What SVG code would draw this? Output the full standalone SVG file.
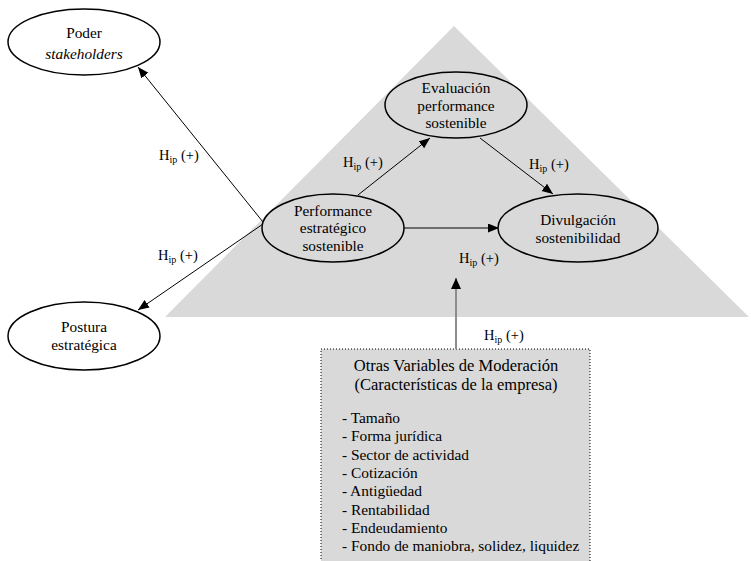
<svg xmlns="http://www.w3.org/2000/svg" width="751" height="561" viewBox="0 0 751 561" font-family="'Liberation Serif', 'Times New Roman', Times, 'DejaVu Serif', serif">
<style>
svg text{font-family:"Liberation Serif","Times New Roman",Times,"DejaVu Serif",serif;fill:#000}
.n{font-size:15.3px;text-anchor:middle}
.lbl{font-size:14.5px}
.sub{font-size:10px}
.e{stroke:#000;stroke-width:1.5}
.c{stroke:#000;stroke-width:1;fill:none}
.hd{font-size:16.5px;text-anchor:middle}
.li{font-size:15.4px}
</style>
<defs>
<marker id="ah" markerUnits="userSpaceOnUse" markerWidth="12" markerHeight="10" refX="11" refY="4.5" orient="auto"><path d="M0,0 L11,4.5 L0,9 z" fill="#000"/></marker>
<marker id="ahg" markerUnits="userSpaceOnUse" markerWidth="12" markerHeight="12" refX="11" refY="5" orient="auto"><path d="M0,0 L11,5 L0,10 z" fill="#000"/></marker>
</defs>
<polygon id="triangle" points="454,26 165,317 749,317" fill="#d9d9d9"/>
<g id="box">
<rect x="321" y="349" width="269" height="220" fill="#d9d9d9" stroke="#000" stroke-width="1" stroke-dasharray="1,2"/>
<text class="hd" x="456" y="371">Otras Variables de Moderación</text>
<text class="hd" x="456" y="390">(Características de la empresa)</text>
<text class="li" x="342" y="423">- Tamaño</text>
<text class="li" x="342" y="441">- Forma jurídica</text>
<text class="li" x="342" y="460">- Sector de actividad</text>
<text class="li" x="342" y="478">- Cotización</text>
<text class="li" x="342" y="496">- Antigüedad</text>
<text class="li" x="342" y="515">- Rentabilidad</text>
<text class="li" x="342" y="533">- Endeudamiento</text>
<text class="li" x="342" y="551">- Fondo de maniobra, solidez, liquidez</text>
</g>
<g id="connectors">
<line class="c" x1="263" y1="222" x2="138" y2="67" marker-end="url(#ah)"/>
<line class="c" x1="263" y1="224" x2="138" y2="310" marker-end="url(#ah)"/>
<line class="c" x1="358" y1="195" x2="430" y2="138" marker-end="url(#ah)"/>
<line class="c" x1="480" y1="138" x2="553" y2="194" marker-end="url(#ah)"/>
<line class="c" x1="403" y1="228" x2="499" y2="228" marker-end="url(#ah)"/>
<line x1="456" y1="349" x2="456" y2="278" stroke="#8c8c8c" stroke-width="2" marker-end="url(#ahg)"/>
</g>
<g id="labels">
<text class="lbl" x="159" y="160">H<tspan class="sub" dy="3">ip</tspan><tspan dy="-3"> (+)</tspan></text>
<text class="lbl" x="158" y="260">H<tspan class="sub" dy="3">ip</tspan><tspan dy="-3"> (+)</tspan></text>
<text class="lbl" x="343" y="167">H<tspan class="sub" dy="3">ip</tspan><tspan dy="-3"> (+)</tspan></text>
<text class="lbl" x="529" y="169">H<tspan class="sub" dy="3">ip</tspan><tspan dy="-3"> (+)</tspan></text>
<text class="lbl" x="459" y="263">H<tspan class="sub" dy="3">ip</tspan><tspan dy="-3"> (+)</tspan></text>
<text class="lbl" x="484" y="340">H<tspan class="sub" dy="3">ip</tspan><tspan dy="-3"> (+)</tspan></text>
</g>
<g id="poder">
<ellipse class="e" cx="84" cy="42" rx="76" ry="33" fill="#fff"/>
<text class="n" x="84" y="38">Poder</text>
<text class="n" x="84" y="59" font-style="italic">stakeholders</text>
</g>
<g id="postura">
<ellipse class="e" cx="84" cy="336" rx="76" ry="34" fill="#fff"/>
<text class="n" x="84" y="332">Postura</text>
<text class="n" x="84" y="350">estratégica</text>
</g>
<g id="evaluacion">
<ellipse class="e" cx="456" cy="105" rx="71" ry="33" fill="#d9d9d9"/>
<text class="n" x="456" y="93">Evaluación</text>
<text class="n" x="456" y="111">performance</text>
<text class="n" x="456" y="128">sostenible</text>
</g>
<g id="performance">
<ellipse class="e" cx="333" cy="228" rx="71" ry="34" fill="#d9d9d9"/>
<text class="n" x="333" y="216">Performance</text>
<text class="n" x="333" y="233">estratégico</text>
<text class="n" x="333" y="251">sostenible</text>
</g>
<g id="divulgacion">
<ellipse class="e" cx="578" cy="228" rx="80" ry="34" fill="#d9d9d9"/>
<text class="n" x="578" y="225">Divulgación</text>
<text class="n" x="578" y="243">sostenibilidad</text>
</g>
</svg>
